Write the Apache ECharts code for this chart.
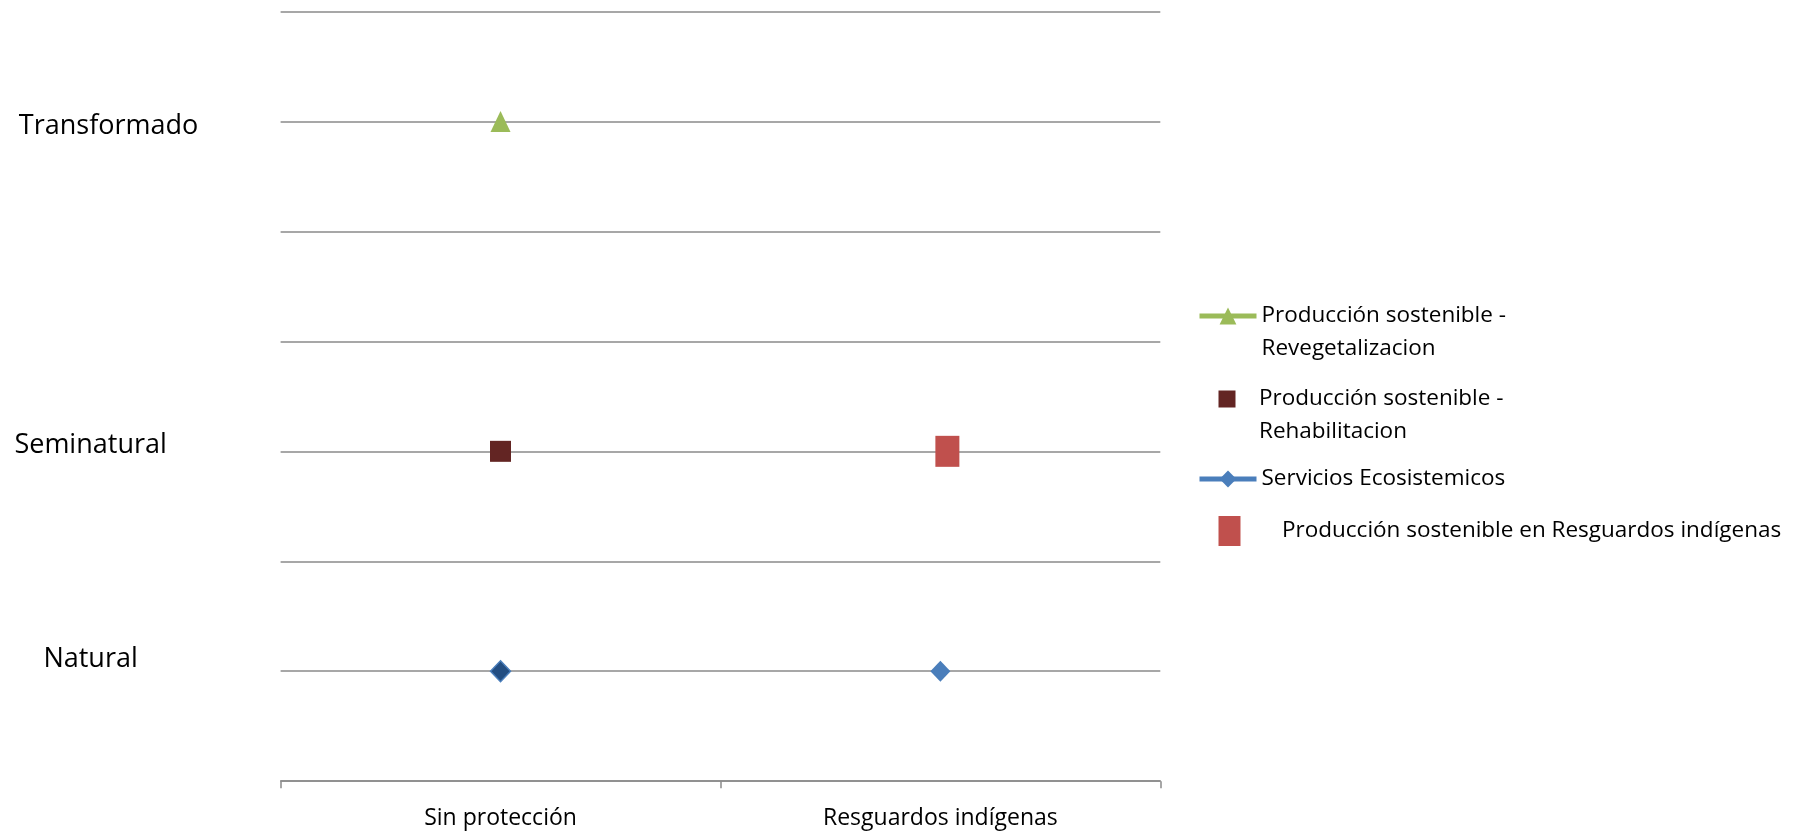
<!DOCTYPE html>
<html>
<head>
<meta charset="utf-8">
<title>Escenarios</title>
<script src="https://cdn.jsdelivr.net/npm/echarts@6/dist/echarts.min.js"></script>
<style>
  html, body { margin: 0; padding: 0; background: #fff; }
  #chart { width: 1796px; height: 831px; }
</style>
</head>
<body>
<div id="chart"></div>
<script>
// categories on the x axis
const categories = ['Sin protección', 'Resguardos indígenas'];
// named levels on the y axis
const levelNames = ['Natural', 'Seminatural', 'Transformado'];
const levelValues = [0.5, 1.5, 3];
// series values (level per category)
const revegetalizacion = [3, null];
const rehabilitacion = [1.5, null];
const servicios = [0.5, 0.5];
const resguardos = [null, 1.5];

const names = [
  'Producción sostenible - Revegetalizacion',
  'Producción sostenible - Rehabilitacion',
  'Servicios Ecosistemicos',
  'Producción sostenible en Resguardos indígenas'
];

const font = 'Open Sans';
const gridGray = '#8a8a8a';
const LH = 33;
const legendFont = { fontFamily: font, fontSize: 22.5, color: '#000', lineHeight: LH };

const levelRich = ['n', 's', 't'];

const chart = echarts.init(document.getElementById('chart'));
chart.setOption({
  animation: false,
  grid: { left: 280.6, right: 635.7, top: 11.5, bottom: 49.8 },
  xAxis: {
    type: 'category',
    data: categories,
    boundaryGap: true,
    axisLine: { lineStyle: { color: gridGray, width: 1.5 } },
    axisTick: { show: true, length: 7, lineStyle: { color: gridGray, width: 1.5 } },
    axisLabel: { color: '#000', fontFamily: font, fontSize: 23, margin: 26 }
  },
  yAxis: {
    type: 'value',
    min: 0,
    max: 3.5,
    interval: 0.5,
    axisLine: { show: false },
    axisTick: { show: false },
    splitLine: { lineStyle: { color: gridGray, width: 1.5 } },
    axisLabel: {
      margin: 190,
      align: 'center',
      formatter: function (v) {
        const i = levelValues.indexOf(v);
        return i < 0 ? '' : '{' + levelRich[i] + '|' + levelNames[i] + '}';
      },
      rich: {
        t: { color: '#000', fontFamily: font, fontSize: 27, padding: [10, 0, 0, 36] },
        s: { color: '#000', fontFamily: font, fontSize: 27, padding: [0, 0, 12, 0] },
        n: { color: '#000', fontFamily: font, fontSize: 27, padding: [0, 0, 24, 0] }
      }
    }
  },
  legend: [
    {
      selectedMode: false, orient: 'vertical', padding: 0,
      left: 1197, top: 316 - 1.5 * LH,
      itemWidth: 57, itemHeight: 21,
      lineStyle: { width: 5 },
      data: [names[0]],
      formatter: function () { return '\nProducción sostenible -\nRevegetalizacion'; },
      textStyle: legendFont
    },
    {
      selectedMode: false, orient: 'vertical', padding: 0,
      left: 1218.5, top: 399 - 1.5 * LH,
      itemWidth: 17, itemHeight: 17,
      data: [{ name: names[1], icon: 'rect' }],
      formatter: function () { return '\nProducción sostenible -\nRehabilitacion'; },
      textStyle: Object.assign({ padding: [0, 0, 0, 18.5] }, legendFont)
    },
    {
      selectedMode: false, orient: 'vertical', padding: 0,
      left: 1197, top: 479 - LH / 2,
      itemWidth: 57, itemHeight: 21,
      lineStyle: { width: 5 },
      data: [names[2]],
      textStyle: legendFont
    },
    {
      selectedMode: false, orient: 'vertical', padding: 0,
      left: 1218.5, top: 531 - LH / 2,
      itemWidth: 22, itemHeight: 30,
      data: [{ name: names[3], icon: 'rect' }],
      textStyle: Object.assign({ padding: [0, 0, 0, 36.5] }, legendFont)
    }
  ],
  series: [
    {
      name: names[0],
      type: 'line',
      data: revegetalizacion,
      symbol: 'triangle',
      symbolSize: [20, 21],
      itemStyle: { color: '#9BBB59' },
      lineStyle: { color: '#9BBB59', width: 0 }
    },
    {
      name: names[1],
      type: 'scatter',
      data: rehabilitacion,
      symbol: 'rect',
      symbolSize: 21,
      itemStyle: { color: '#632523', opacity: 1 }
    },
    {
      name: names[2],
      type: 'line',
      data: servicios.map(function (v, i) {
        return i === 0
          ? { value: v, itemStyle: { color: '#234E82', borderColor: '#4A7EBB', borderWidth: 1.5 } }
          : v;
      }),
      symbol: 'diamond',
      symbolSize: [20, 21],
      itemStyle: { color: '#4A7EBB' },
      lineStyle: { color: '#4A7EBB', width: 0 }
    },
    {
      name: names[3],
      type: 'scatter',
      data: resguardos,
      symbol: 'rect',
      symbolSize: [24, 31],
      symbolOffset: [7, 0],
      itemStyle: { color: '#C0504D', opacity: 1 }
    }
  ]
});
</script>
</body>
</html>
